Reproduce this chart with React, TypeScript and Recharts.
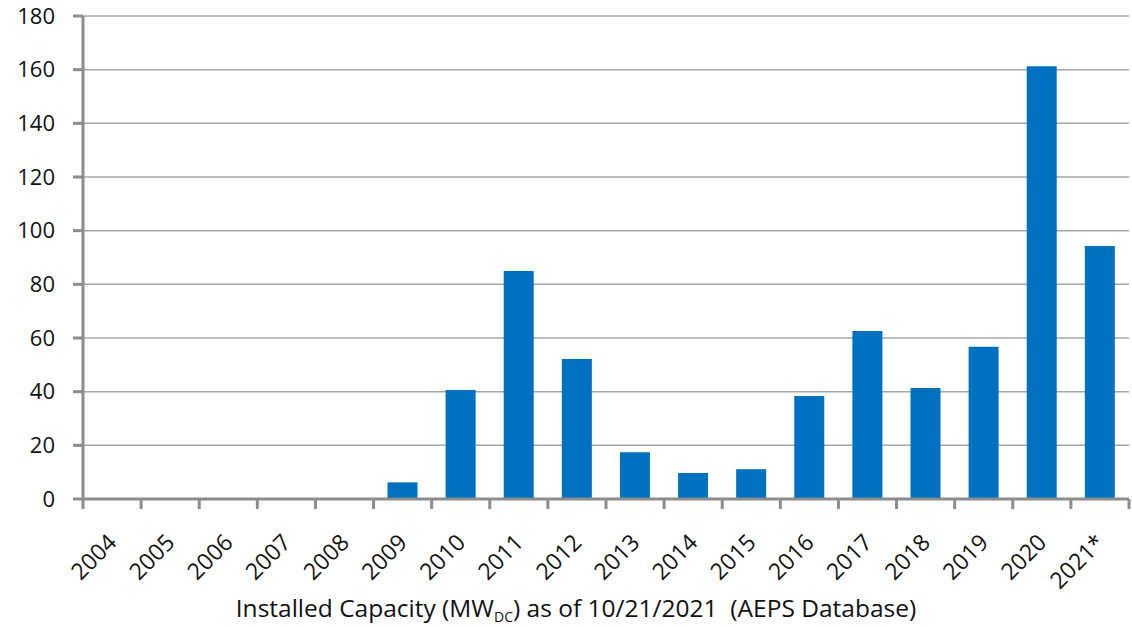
import { Bar, BarChart, CartesianGrid, XAxis, YAxis } from "recharts";

const years = [
  "2004", "2005", "2006", "2007", "2008", "2009", "2010", "2011", "2012",
  "2013", "2014", "2015", "2016", "2017", "2018", "2019", "2020", "2021*",
];
const capacity = [0, 0, 0, 0, 0, 6.2, 40.6, 85, 52.2, 17.4, 9.7, 11.1, 38.4, 62.6, 41.4, 56.7, 161.3, 94.3];
const yTicks = [0, 20, 40, 60, 80, 100, 120, 140, 160, 180];

const FONT = "'Open Sans', sans-serif";
const AXIS = "#8c8c8c";

// x ticks in the source sit on category boundaries, so the tick draws its own marks
function YearTick(props: any) {
  const { x, y, payload, index, width, visibleTicksCount } = props;
  const band = width / (visibleTicksCount || years.length);
  const left = x - band / 2;
  const ax = x + 6;
  const ay = y + 37;
  return (
    <g>
      <line x1={left} x2={left} y1={y - 8} y2={y + 2} stroke={AXIS} strokeWidth={3} />
      {index === years.length - 1 && (
        <line x1={left + band} x2={left + band} y1={y - 8} y2={y + 2} stroke={AXIS} strokeWidth={3} />
      )}
      <text
        x={ax}
        y={ay}
        textAnchor="end"
        transform={`rotate(-45, ${ax}, ${ay})`}
        fill="#111"
        fontSize={23}
        fontFamily={FONT}
      >
        {payload.value}
      </text>
    </g>
  );
}

function AxisTitle(props: any) {
  const { viewBox } = props;
  const cx = viewBox.x + viewBox.width / 2 - 30;
  return (
    <text x={cx} y={viewBox.y + 118} textAnchor="middle" fill="#111" fontSize={24.5} fontFamily={FONT}>
      Installed Capacity (MW
      <tspan fontSize={14} dy={5}>DC</tspan>
      <tspan dy={-5}>{") as of 10/21/2021\u00a0\u00a0(AEPS Database)"}</tspan>
    </text>
  );
}

export default function App() {
  const data = years.map((year, i) => ({ year, value: capacity[i] }));
  return (
    <div style={{ position: "absolute", left: 0, top: 0, background: "#fff" }}>
      <BarChart
        width={1132}
        height={627}
        data={data}
        margin={{ top: 16, right: 3, bottom: 0, left: 0 }}
        barCategoryGap="24%"
      >
        <CartesianGrid vertical={false} stroke="#a6a6a6" strokeWidth={1.5} />
        <XAxis
          dataKey="year"
          interval={0}
          height={128}
          tickLine={false}
          axisLine={{ stroke: AXIS, strokeWidth: 3 }}
          tick={<YearTick />}
          label={<AxisTitle />}
        />
        <YAxis
          domain={[0, 180]}
          ticks={yTicks}
          width={83}
          axisLine={{ stroke: AXIS, strokeWidth: 3 }}
          tickLine={{ stroke: AXIS, strokeWidth: 3 }}
          tickSize={10}
          tickMargin={18}
          tick={{ fill: "#111", fontSize: 22, fontFamily: FONT }}
        />
        <Bar dataKey="value" fill="#0070c0" isAnimationActive={false} />
      </BarChart>
    </div>
  );
}
